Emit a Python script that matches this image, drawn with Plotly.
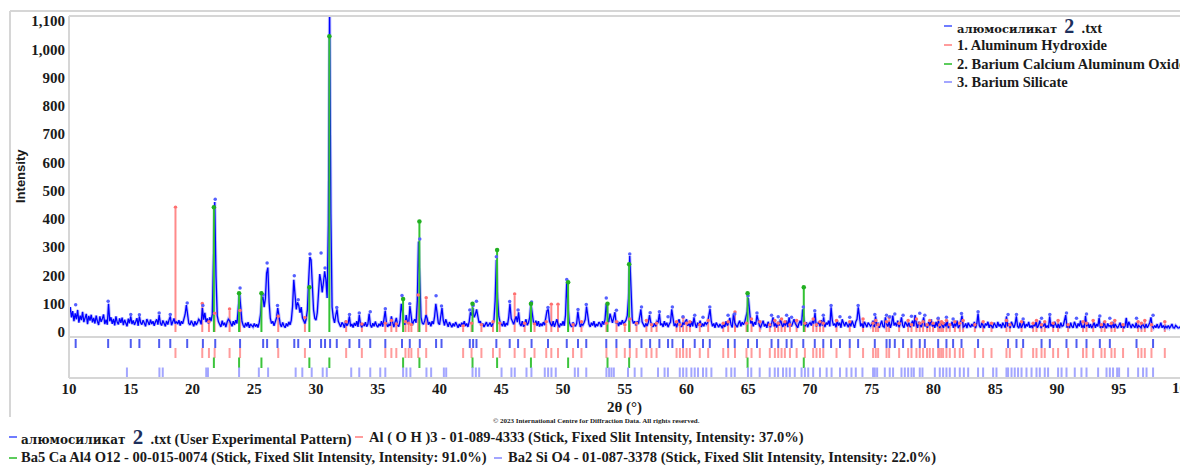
import numpy as np
import plotly.graph_objects as go

# ---------------- data ----------------
start_2theta = 10.0
step_2theta = 0.1
intensity = [
    62, 88, 52, 74, 38, 66, 45, 78, 33, 58,   # 10
    42, 71, 35, 55, 64, 28, 57, 40, 61, 34,   # 11
    50, 30, 58, 38, 25, 55, 36, 47, 62, 28,   # 12
    44, 26, 100, 38, 52, 29, 46, 23, 55, 35,  # 13
    27, 48, 32, 51, 24, 43, 34, 20, 47, 31,   # 14
    55, 28, 41, 25, 36, 49, 22, 55, 33, 26,   # 15
    42, 29, 20, 46, 33, 25, 44, 28, 38, 22,   # 16
    36, 45, 26, 60, 31, 23, 41, 28, 20, 39,   # 17
    26, 43, 55, 24, 33, 48, 30, 37, 28, 42,   # 18
    23, 38, 29, 46, 62, 95, 56, 30, 25, 40,   # 19
    31, 20, 38, 25, 33, 45, 40, 27, 85, 44,   # 20
    68, 35, 48, 30, 52, 38, 62, 300, 460, 200,  # 21
    58, 36, 28, 18, 40, 24, 33, 17, 35, 45,   # 22
    40, 28, 20, 38, 25, 42, 30, 80, 140, 90,  # 23
    38, 24, 16, 32, 20, 35, 15, 28, 22, 18,   # 24
    30, 19, 27, 16, 33, 60, 112, 125, 88, 118,  # 25
    208, 228, 105, 48, 30, 38, 22, 36, 50, 85,  # 26
    55, 28, 18, 34, 22, 15, 30, 20, 36, 25,   # 27
    42, 90, 185, 140, 80, 105, 95, 68, 88, 50,  # 28
    38, 30, 45, 78, 180, 265, 255, 150, 78, 48,  # 29
    42, 68, 150, 205, 180, 140, 175, 215, 185, 120,  # 30
    380, 1160, 420, 88, 50, 32, 60, 80, 38, 24,  # 31
    18, 34, 27, 15, 40, 22, 30, 55, 20, 28,   # 32
    16, 32, 22, 38, 18, 60, 28, 17, 30, 21,   # 33
    35, 19, 28, 65, 25, 16, 31, 20, 37, 23,   # 34
    17, 29, 21, 38, 19, 45, 75, 33, 18, 27,   # 35
    22, 55, 30, 17, 35, 50, 25, 19, 38, 100,  # 36
    70, 32, 26, 60, 35, 28, 92, 45, 24, 38,   # 37
    45, 33, 110, 320, 140, 52, 32, 27, 40, 60,  # 38
    48, 26, 35, 20, 38, 28, 55, 100, 68, 32,  # 39
    26, 50, 85, 42, 23, 45, 28, 18, 35, 22,   # 40
    17, 30, 20, 35, 22, 15, 28, 19, 33, 24,   # 41
    38, 21, 30, 18, 36, 70, 58, 85, 52, 62,   # 42
    80, 48, 32, 38, 22, 30, 18, 27, 35, 20,   # 43
    25, 33, 19, 28, 38, 110, 255, 120, 55, 35,  # 44
    30, 21, 38, 19, 32, 24, 52, 100, 48, 33,  # 45
    27, 42, 55, 35, 70, 30, 21, 38, 19, 28,   # 46
    45, 24, 33, 52, 100, 68, 36, 26, 40, 22,  # 47
    38, 19, 30, 21, 35, 24, 45, 75, 80, 38,   # 48
    28, 21, 38, 18, 32, 45, 26, 17, 30, 23,   # 49
    38, 22, 60, 178, 92, 35, 24, 18, 34, 26,  # 50
    20, 30, 72, 40, 18, 28, 24, 33, 45, 90,   # 51
    52, 27, 18, 33, 23, 38, 17, 28, 21, 35,   # 52
    30, 18, 38, 26, 45, 100, 52, 35, 65, 42,  # 53
    32, 50, 70, 30, 38, 21, 35, 26, 42, 28,   # 54
    35, 42, 58, 120, 269, 150, 45, 30, 38, 24,  # 55
    38, 28, 52, 80, 36, 24, 18, 30, 21, 33,   # 56
    60, 34, 27, 18, 31, 20, 38, 35, 65, 24,   # 57
    30, 18, 38, 23, 33, 17, 28, 35, 80, 38,   # 58
    21, 30, 17, 35, 45, 24, 18, 33, 26, 38,   # 59
    45, 22, 30, 18, 38, 20, 52, 28, 15, 33,   # 60
    23, 40, 18, 30, 20, 35, 27, 33, 52, 81,   # 61
    38, 20, 30, 15, 33, 23, 17, 28, 20, 14,   # 62
    30, 18, 38, 23, 33, 50, 26, 16, 65, 33,   # 63
    24, 17, 30, 40, 20, 35, 26, 33, 52, 70,   # 64
    120, 60, 30, 38, 20, 35, 26, 60, 33, 22,  # 65
    17, 30, 40, 20, 28, 15, 36, 23, 17, 33,   # 66
    52, 20, 30, 16, 36, 23, 45, 28, 18, 33,   # 67
    23, 40, 17, 52, 28, 20, 36, 45, 30, 20,   # 68
    15, 30, 40, 23, 80, 45, 20, 35, 17, 28,   # 69
    33, 23, 40, 30, 68, 20, 28, 36, 20, 42,   # 70
    23, 52, 17, 33, 26, 40, 20, 87, 40, 23,   # 71
    30, 17, 40, 23, 33, 15, 45, 28, 20, 35,   # 72
    23, 17, 33, 20, 40, 28, 15, 36, 45, 87,   # 73
    40, 20, 30, 15, 36, 23, 17, 33, 26, 20,   # 74
    28, 40, 17, 55, 23, 33, 15, 30, 40, 20,   # 75
    17, 52, 28, 20, 36, 15, 30, 58, 23, 33,   # 76
    20, 40, 17, 30, 52, 23, 15, 36, 28, 20,   # 77
    33, 17, 28, 40, 20, 60, 30, 15, 36, 23,   # 78
    17, 33, 52, 20, 28, 15, 36, 23, 45, 20,   # 79
    28, 15, 36, 20, 40, 14, 30, 23, 15, 33,   # 80
    20, 40, 14, 28, 23, 36, 15, 30, 20, 40,   # 81
    14, 23, 36, 58, 17, 20, 30, 14, 33, 23,   # 82
    17, 28, 20, 36, 14, 30, 65, 23, 15, 33,   # 83
    20, 14, 30, 23, 36, 15, 28, 20, 14, 33,   # 84
    23, 15, 36, 20, 28, 14, 33, 23, 15, 55,   # 85
    20, 30, 14, 36, 23, 15, 28, 55, 20, 14,   # 86
    33, 15, 23, 38, 14, 28, 20, 36, 15, 23,   # 87
    14, 30, 20, 36, 15, 23, 40, 14, 28, 20,   # 88
    33, 15, 23, 14, 55, 20, 28, 15, 36, 23,   # 89
    15, 28, 14, 33, 20, 23, 38, 60, 15, 28,   # 90
    14, 33, 20, 15, 36, 23, 14, 30, 20, 40,   # 91
    15, 23, 14, 57, 20, 33, 15, 28, 14, 23,   # 92
    33, 15, 28, 20, 50, 14, 23, 15, 36, 20,   # 93
    14, 30, 20, 23, 14, 36, 15, 28, 20, 14,   # 94
    23, 33, 15, 28, 14, 20, 50, 15, 36, 20,   # 95
    14, 28, 20, 15, 33, 14, 23, 20, 15, 30,   # 96
    20, 14, 28, 15, 23, 33, 52, 20, 14, 23,   # 97
    15, 28, 14, 20, 33, 15, 23, 14, 20, 15,   # 98
    23, 14, 20, 28, 15, 14, 23, 20, 14, 15,   # 99
    20,                                       # 100
]

# experimental peak list (2theta, marker height)
peak_list = [
    (10.54, 92), (13.17, 105), (15.0, 58), (15.7, 57), (17.3, 63), (18.2, 58),
    (19.57, 99), (20.84, 90), (21.84, 466), (23.85, 152), (25.72, 128), (26.04, 240),
    (26.88, 90), (28.24, 195), (28.56, 110), (29.51, 272), (30.41, 275), (30.73, 222),
    (31.14, 1160), (31.68, 83), (32.71, 58), (33.5, 63), (34.39, 68), (35.61, 78),
    (36.96, 125), (37.59, 96), (38.4, 325), (39.72, 124), (40.16, 88), (42.45, 74),
    (42.72, 90), (42.99, 105), (44.6, 262), (45.68, 104), (46.36, 74), (47.45, 102),
    (48.78, 83), (50.3, 182), (51.21, 76), (51.88, 93), (53.5, 116), (54.32, 73),
    (55.4, 272), (56.35, 84), (57.05, 64), (57.8, 68), (58.5, 50), (58.85, 84),
    (59.71, 50), (60.66, 55), (61.33, 48), (61.88, 84), (63.36, 55), (63.9, 60),
    (64.98, 124), (65.7, 63), (66.88, 55), (67.42, 50), (68.1, 55), (68.5, 48),
    (69.45, 84), (70.38, 71), (71.07, 55), (71.7, 90), (72.42, 50), (73.21, 48),
    (73.89, 90), (75.24, 58), (76.19, 55), (76.45, 50), (76.86, 60), (77.53, 55),
    (78.21, 52), (78.88, 62), (79.29, 55), (80.37, 45), (81.04, 48), (81.58, 42),
    (82.26, 61), (83.6, 68), (86.03, 58), (86.71, 58), (87.25, 42), (88.74, 45),
    (89.41, 58), (90.76, 63), (91.57, 45), (92.38, 60), (93.46, 53), (94.27, 45),
    (96.43, 45), (97.77, 55),
]

# 1. Aluminum Hydroxide  Al(OH)3  (2theta, stick height)
aloh3_sticks = [
    (18.62, 435), (20.79, 95), (21.33, 30), (21.79, 60), (23.0, 75), (23.85, 70),
    (26.94, 50), (29.1, 45), (32.44, 30), (33.71, 22), (35.61, 25), (36.1, 35),
    (36.5, 22), (37.24, 30), (37.5, 25), (37.72, 20), (38.27, 125), (38.92, 115),
    (41.91, 15), (42.59, 25), (43.39, 20), (44.33, 30), (44.87, 25), (46.08, 128),
    (46.89, 25), (47.69, 22), (48.64, 30), (49.05, 92), (49.59, 92), (50.81, 20),
    (51.49, 30), (53.51, 25), (54.33, 30), (55.0, 20), (55.41, 40), (55.95, 25),
    (56.75, 35), (57.16, 20), (57.57, 25), (59.19, 30), (59.46, 20), (59.72, 45),
    (60.0, 25), (60.27, 30), (61.07, 20), (61.75, 35), (62.97, 25), (63.37, 30),
    (63.92, 65), (64.85, 25), (65.26, 40), (65.93, 30), (66.74, 20), (67.15, 35),
    (67.42, 25), (67.69, 40), (67.96, 30), (68.37, 20), (68.91, 35), (69.58, 25),
    (70.25, 40), (70.52, 20), (70.8, 30), (71.07, 25), (72.14, 35), (73.21, 30),
    (74.29, 40), (75.1, 25), (75.32, 35), (75.51, 20), (76.19, 30), (76.4, 45),
    (77.21, 25), (77.94, 35), (78.21, 20), (78.61, 40), (78.88, 25), (79.15, 30),
    (79.47, 20), (79.69, 35), (79.96, 25), (80.37, 40), (80.5, 20), (80.64, 30),
    (80.77, 25), (81.04, 35), (81.31, 20), (81.72, 30), (82.12, 25), (82.39, 35),
    (83.34, 20), (84.01, 30), (84.69, 25), (85.9, 35), (86.17, 20), (87.12, 30),
    (88.06, 25), (88.33, 35), (88.74, 20), (89.0, 30), (89.68, 25), (90.08, 35),
    (90.89, 20), (92.1, 30), (92.38, 25), (92.92, 35), (93.59, 20), (93.86, 30),
    (94.4, 25), (94.67, 35), (95.34, 20), (96.56, 30), (96.83, 25), (97.1, 35),
    (97.64, 20), (98.72, 30),
]

# 2. Barium Calcium Aluminum Oxide  Ba5CaAl4O12  (2theta, stick height)
bcao_sticks = [
    (21.73, 435), (23.77, 131), (25.58, 131), (29.46, 152), (31.08, 1040),
    (37.05, 111), (38.37, 385), (42.67, 94), (44.66, 284), (47.4, 94),
    (50.41, 170), (53.6, 94), (55.35, 234), (64.94, 131), (69.49, 152),
]

# 3. Barium Silicate  Ba2SiO4  (2theta positions)
bs_positions = [
    14.69, 17.32, 17.59, 21.11, 21.25, 23.77, 25.37, 26.12, 28.35, 28.89, 29.65,
    30.54, 30.87, 32.85, 33.5, 34.39, 35.2, 35.61, 37.05, 37.32, 37.64, 38.94,
    39.32, 40.35, 40.54, 42.67, 42.94, 43.21, 45.02, 45.82, 46.09, 47.04, 47.44,
    48.52, 48.79, 49.06, 49.41, 50.95, 51.22, 51.88, 53.51, 53.73, 53.92, 54.11,
    55.26, 55.8, 56.35, 57.69, 58.22, 58.49, 59.45, 59.72, 59.99, 60.39, 60.66,
    60.93, 61.33, 61.6, 62.01, 63.22, 63.62, 63.9, 64.97, 65.24, 65.92, 66.73,
    67.14, 67.41, 67.81, 68.08, 68.36, 68.76, 69.31, 69.58, 69.85, 70.25, 70.8,
    71.34, 71.74, 72.42, 72.95, 73.35, 73.7, 74.24, 75.1, 75.24, 75.43, 76.05,
    76.45, 76.72, 77.4, 77.67, 77.94, 78.21, 78.4, 78.88, 79.1, 80.1, 80.5,
    80.77, 81.04, 81.31, 81.72, 82.12, 82.45, 82.8, 83.6, 84.01, 84.82, 85.09,
    85.9, 86.03, 86.31, 86.57, 86.84, 87.12, 87.52, 87.93, 88.33, 88.6, 89.0,
    89.27, 90.08, 90.36, 90.76, 91.43, 91.97, 92.38, 93.32, 94.0, 94.27, 94.53,
    94.86, 95.02, 95.75, 96.56, 96.96, 97.24, 97.77,
]

x_ticks = list(range(10, 100, 5))
y_ticks = list(range(0, 1101, 100))

# ---------------- geometry (layout only) ----------------
W, H = 1180, 466
PLOT_L, PLOT_T, PLOT_B, PLOT_R = 69, 16, 378, 1180   # page pixel coords
ML, MT, MB, MR = PLOT_L, PLOT_T, H - PLOT_B, W - PLOT_R
PW, PH = W - ML - MR, H - MT - MB


def px(xp):  # page px -> paper
    return (xp - ML) / PW


def py(yp):
    return (PLOT_B - yp) / PH


STICK_FRAC = 41 / PH

x_exp = np.round(start_2theta + step_2theta * np.arange(len(intensity)), 2)


def stick_xy(xs, y0s, y1s):
    X, Y = [], []
    for x, a, b in zip(xs, y0s, y1s):
        X += [x, x, None]
        Y += [a, b, None]
    return X, Y


pk_x = [p for p, _ in peak_list]
pk_h = [h for _, h in peak_list]
r_x = [p for p, _ in aloh3_sticks]
r_h = [h for _, h in aloh3_sticks]
g_x = [p for p, _ in bcao_sticks]
g_h = [h for _, h in bcao_sticks]

BLUE = "#0000ff"
RED = "#ff8a8a"
GREEN = "#33c233"

fig = go.Figure()

# red reference sticks (behind pattern)
sx, sy = stick_xy(r_x, [0] * len(r_x), r_h)
fig.add_trace(go.Scatter(x=sx, y=sy, mode="lines", line=dict(color=RED, width=2)))

# experimental pattern (halo + line)
fig.add_trace(go.Scatter(x=x_exp, y=intensity, mode="lines",
                         line=dict(color="rgba(110,120,255,0.45)", width=3.2)))
fig.add_trace(go.Scatter(x=x_exp, y=intensity, mode="lines",
                         line=dict(color=BLUE, width=1.3)))

# green sticks
sx, sy = stick_xy(g_x, [0] * len(g_x), g_h)
fig.add_trace(go.Scatter(x=sx, y=sy, mode="lines", line=dict(color=GREEN, width=2)))

# markers
fig.add_trace(go.Scatter(x=r_x, y=[h + 6 for h in r_h], mode="markers",
                         marker=dict(color="#ff7070", size=3.5)))
fig.add_trace(go.Scatter(x=pk_x, y=[h + 4 for h in pk_h], mode="markers",
                         marker=dict(color="#5560ff", size=3.5)))
fig.add_trace(go.Scatter(x=g_x, y=[h + 6 for h in g_h], mode="markers",
                         marker=dict(color="#22b022", size=4.5)))

# stick panel rows
rows = [
    (pk_x, 2, 11, "#4f5cf0"),
    (r_x, 11, 21, "#ff9c9c"),
    (g_x, 20.5, 31, "#3cc43c"),
    (bs_positions, 30.5, 41, "#a3a6ff"),
]
for xs, a, b, c in rows:
    sx, sy = stick_xy(xs, [a] * len(xs), [b] * len(xs))
    fig.add_trace(go.Scatter(x=sx, y=sy, mode="lines", line=dict(color=c, width=2),
                             xaxis="x", yaxis="y2"))

SERIF = "Liberation Serif"
TXT = "#1a1a1a"
GRID = "#d6d6d6"

shapes = []


def hline(x0, x1, y, color=GRID, w=2):
    shapes.append(dict(type="line", xref="paper", yref="paper",
                       x0=px(x0), x1=px(x1), y0=py(y), y1=py(y),
                       line=dict(color=color, width=w)))


def vline(x, y0, y1, color=GRID, w=2):
    shapes.append(dict(type="line", xref="paper", yref="paper",
                       x0=px(x), x1=px(x), y0=py(y0), y1=py(y1),
                       line=dict(color=color, width=w)))


# frames
hline(10, 1190, 11)
vline(10, 11, 417)
hline(69, 1190, 16)
vline(69, 16, 378)
hline(69, 1190, 337)
hline(69, 1190, 378)

annotations = []


def text(x, y, s, size=13, color=TXT, bold=True, family=SERIF, xanchor="left", angle=0):
    annotations.append(dict(xref="paper", yref="paper", x=px(x), y=py(y), text=s,
                            showarrow=False, xanchor=xanchor, yanchor="middle",
                            textangle=angle,
                            font=dict(family=family, size=size, color=color,
                                      weight="bold" if bold else "normal")))


def cyr(sz):
    return ("<span style=\"font-family:'DejaVu Serif';font-size:%spx\">алюмосиликат</span>" % sz)


def two(sz):
    return "<span style='font-size:%spx;color:#1d2f5c'>2</span>" % sz


# top-right legend
leg_items = [
    (26, "#6f7cff", cyr(11.5) + "  " + two(20) + "  .txt"),
    (45, "#ff9c9c", "1. Aluminum Hydroxide"),
    (64, "#5ccc5c", "2. Barium Calcium Aluminum Oxide"),
    (82, "#a3a6ff", "3. Barium Silicate"),
]
for yy, c, s in leg_items:
    hline(944, 952, yy, color=c, w=2)
    text(955, yy, s, size=14.5)

# bottom legend
LS = 14.5
hline(9, 17, 437, color="#6f7cff")
text(19, 437, cyr(12) + "  " + two(21) + "  .txt (User Experimental Pattern)", size=LS)
hline(355, 363, 437, color="#ff9c9c")
text(367, 437, "Al ( O H )3 - 01-089-4333 (Stick, Fixed Slit Intensity, Intensity: 37.0%)", size=LS)
hline(9, 17, 458, color="#5ccc5c")
text(19, 458, "Ba5 Ca Al4 O12 - 00-015-0074 (Stick, Fixed Slit Intensity, Intensity: 91.0%)", size=LS)
hline(494, 502, 458, color="#a3a6ff")
text(506, 458, "Ba2 Si O4 - 01-087-3378 (Stick, Fixed Slit Intensity, Intensity: 22.0%)", size=LS)

# axis titles / notes
text(624, 407, "2θ (°)", size=15, xanchor="center")
text(596, 421, "© 2023 International Centre for Diffraction Data. All rights reserved.",
     size=7, xanchor="center")
text(20, 176, "Intensity", size=13, family="Liberation Sans", xanchor="center", angle=-90)
text(1183, 388, "100", size=15, xanchor="center")

fig.update_layout(
    template="none",
    width=W, height=H,
    margin=dict(l=ML, r=MR, t=MT, b=MB, autoexpand=False),
    paper_bgcolor="white", plot_bgcolor="white",
    showlegend=False,
    shapes=shapes,
    annotations=annotations,
    xaxis=dict(range=[10, 99.95], tickvals=x_ticks, anchor="y2",
               showgrid=False, zeroline=False, showline=False, ticks="",
               automargin=False,
               tickfont=dict(family=SERIF, size=15, color=TXT, weight="bold")),
    yaxis=dict(domain=[STICK_FRAC, 1], range=[-17.7, 1117.8], tickvals=y_ticks,
               separatethousands=True, showgrid=False, zeroline=False,
               showline=False, ticks="", automargin=False, ticklabelstandoff=3,
               tickfont=dict(family=SERIF, size=15, color=TXT, weight="bold")),
    yaxis2=dict(domain=[0, STICK_FRAC], range=[41, 0], visible=False),
)

fig.write_html(
    "out.html",
    config={"displayModeBar": False},
    post_script="document.body.style.margin='0';document.body.style.overflow='hidden';",
)
